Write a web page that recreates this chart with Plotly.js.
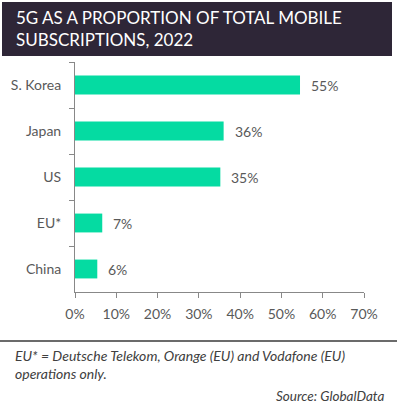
<!DOCTYPE html>
<html>
<head>
<meta charset="utf-8">
<script src="https://cdn.plot.ly/plotly-3.0.1.min.js"></script>
<style>
  html, body { margin: 0; padding: 0; background: #ffffff; }
  #chart { width: 397px; height: 403px; }
</style>
</head>
<body>
<div id="chart"></div>
<script>
const categories = ["S. Korea", "Japan", "US", "EU*", "China"];
const values = [54.5, 36, 35.2, 6.6, 5.4];
const valueLabels = ["55%", "36%", "35%", "7%", "6%"];
const tickValues = [0, 10, 20, 30, 40, 50, 60, 70];
const tickLabels = ["0%", "10%", "20%", "30%", "40%", "50%", "60%", "70%"];

const W = 397, H = 403;
const L = 75, R = 33, T = 62, B = 111;
const pw = W - L - R, ph = H - T - B;
const px = x => (x - L) / pw;
const py = y => (H - B - y) / ph;

const font = "Lato, 'Open Sans', sans-serif";

const trace = {
  type: "bar",
  orientation: "h",
  y: categories,
  x: values,
  marker: { color: "#05dba2" },
  hoverinfo: "none"
};

const valueAnnotations = categories.map((c, i) => ({
  xref: "x", yref: "y", x: values[i], y: c,
  xanchor: "left", yanchor: "middle", showarrow: false,
  xshift: 9,
  text: valueLabels[i],
  font: { family: font, size: 14, color: "#595959" }
}));

const layout = {
  width: W, height: H,
  margin: { l: L, r: R, t: T, b: B, pad: 0 },
  paper_bgcolor: "#ffffff",
  plot_bgcolor: "#ffffff",
  showlegend: false,
  bargap: 0.59,
  font: { family: font, color: "#595959", size: 14 },
  xaxis: {
    range: [0, 70],
    tickvals: tickValues,
    ticktext: tickLabels,
    showgrid: false,
    zeroline: false,
    showline: true,
    linecolor: "#888888",
    linewidth: 1,
    ticks: "outside",
    ticklen: 5,
    tickcolor: "#888888",
    ticklabelstandoff: 4,
    tickfont: { family: font, size: 14, color: "#595959" },
    fixedrange: true
  },
  yaxis: {
    type: "category",
    autorange: "reversed",
    showgrid: false,
    zeroline: false,
    showline: true,
    linecolor: "#888888",
    linewidth: 1,
    ticks: "outside",
    tickson: "boundaries",
    ticklen: 5,
    tickcolor: "#888888",
    ticklabelstandoff: 10,
    tickfont: { family: font, size: 14, color: "#595959" },
    fixedrange: true
  },
  shapes: [
    {
      type: "rect", xref: "paper", yref: "paper",
      x0: px(2), x1: px(392), y0: py(56), y1: py(2),
      fillcolor: "#2e2637", line: { width: 0 }, layer: "below"
    },
    {
      type: "line", xref: "paper", yref: "paper",
      x0: px(0), x1: px(397), y0: py(341), y1: py(341),
      line: { color: "#3a3a3a", width: 1.5 }
    }
  ],
  annotations: [
    {
      xref: "paper", yref: "paper", x: px(14), y: py(29),
      xanchor: "left", yanchor: "middle", align: "left", showarrow: false,
      text: "5G AS A PROPORTION OF TOTAL MOBILE<br>SUBSCRIPTIONS, 2022",
      font: { family: font, size: 17, color: "#ffffff" }
    },
    {
      xref: "paper", yref: "paper", x: px(13), y: py(364),
      xanchor: "left", yanchor: "middle", align: "left", showarrow: false,
      text: "<i>EU* = Deutsche Telekom, Orange (EU) and Vodafone (EU)<br>operations only.</i>",
      font: { family: font, size: 14, color: "#404040" }
    },
    {
      xref: "paper", yref: "paper", x: px(386), y: py(396),
      xanchor: "right", yanchor: "middle", align: "right", showarrow: false,
      text: "<i>Source: GlobalData</i>",
      font: { family: font, size: 13.5, color: "#404040" }
    }
  ].concat(valueAnnotations)
};

Plotly.newPlot("chart", [trace], layout, { displayModeBar: false, staticPlot: true });
</script>
</body>
</html>
